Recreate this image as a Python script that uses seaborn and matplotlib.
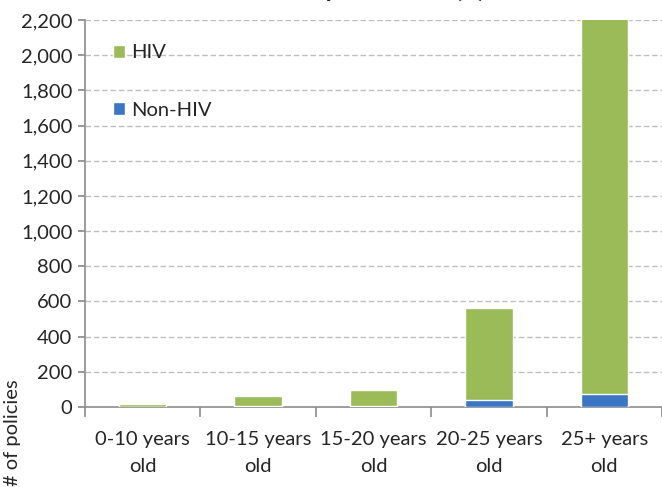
import matplotlib
matplotlib.use("Agg")
import matplotlib.pyplot as plt
import seaborn as sns
import pandas as pd
import numpy as np

categories = ["0-10 years\nold", "10-15 years\nold", "15-20 years\nold", "20-25 years\nold", "25+ years\nold"]
non_hiv = [2, 3, 3, 38, 72]
hiv = [13, 59, 92, 527, 2150]
y_ticks = [0, 200, 400, 600, 800, 1000, 1200, 1400, 1600, 1800, 2000, 2200]

sns.set_theme(style="white")
plt.rcParams['font.family'] = ['Lato', 'DejaVu Sans']

total = [a + b for a, b in zip(hiv, non_hiv)]
df = pd.DataFrame({"cat": categories, "total": total, "non_hiv": non_hiv})

fig = plt.figure(figsize=(6.62, 4.87), dpi=100)
ax = fig.add_axes([85/662, 1-407/487, 1-85/662, (407-20)/487])

green = "#9BBB59"
blue = "#3A76C4"
sns.barplot(data=df, x="cat", y="total", color=green, width=0.41, ax=ax,
            saturation=1, label="HIV", zorder=3)
sns.barplot(data=df, x="cat", y="non_hiv", color=blue, width=0.41, ax=ax,
            saturation=1, label="Non-HIV", zorder=3)

fs = 14.5
ax.set_ylim(0, 2200)
ax.set_xlim(-0.5, 4.5)
ax.set_yticks(y_ticks)
ax.set_yticklabels([f"{v:,}" for v in y_ticks], fontsize=fs)
ax.set_xticks(range(len(categories)))
ax.set_xticklabels(categories, fontsize=fs, linespacing=1.75)
ax.set_xlabel("")
ax.set_ylabel("")

for y in y_ticks[1:]:
    ax.axhline(y, color="#BFBFBF", linestyle=(0, (4, 2)), linewidth=1, zorder=1)

for s in ["top", "right"]:
    ax.spines[s].set_visible(False)
for s in ["left", "bottom"]:
    ax.spines[s].set_color("#8C8C8C")
    ax.spines[s].set_linewidth(1.2)

ax.tick_params(axis="y", length=5, color="#8C8C8C", left=True, pad=4)
ax.tick_params(axis="x", length=0, pad=17)
ax.set_xticks(np.arange(-0.5, 4.6, 1.0), minor=True)
ax.tick_params(axis="x", which="minor", length=7, color="#8C8C8C", bottom=True, width=1.2)

leg = ax.legend(loc="upper left", bbox_to_anchor=(0.035, 0.958), frameon=False,
                fontsize=fs, handlelength=0.6, handleheight=0.6, handletextpad=0.3,
                labelspacing=2.0, borderaxespad=0)

fig.text(13/662, 1-433/487, "# of policies", rotation=90, ha="center", va="center", fontsize=fs)

# title, mostly above the canvas (only descender tips visible)
title = "Policies by Duration (#)"
tfs = 19
fig.canvas.draw()
r = fig.canvas.get_renderer()
tmp = fig.text(0, 0, "Policies b", fontsize=tfs, fontweight="bold")
w = tmp.get_window_extent(renderer=r).width
tmp.remove()
fig.text((324 - w)/662, 1+3/487, title, ha="left", va="baseline",
         fontsize=tfs, fontweight="bold")

fig.savefig("out.png", dpi=100)
